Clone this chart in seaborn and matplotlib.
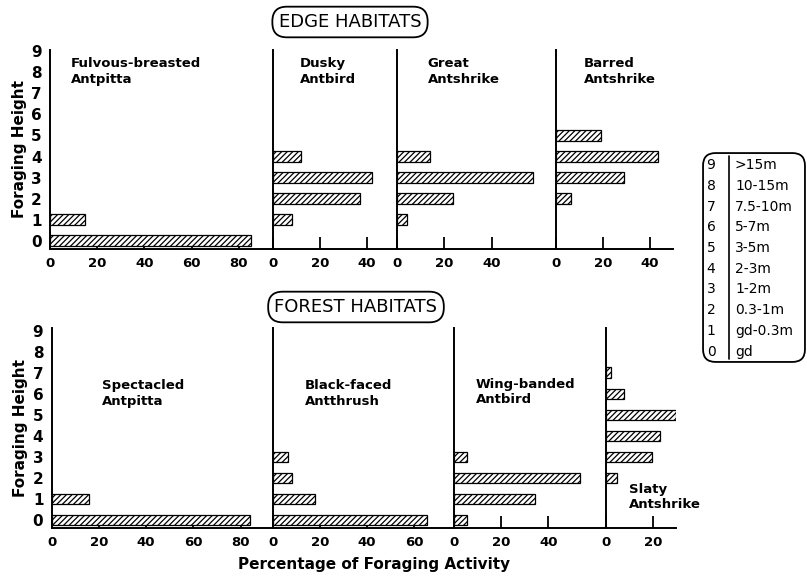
import matplotlib
matplotlib.use("Agg")
import matplotlib.pyplot as plt
from matplotlib.patches import FancyBboxPatch
import seaborn as sns
import pandas as pd

# DATA
height_codes = list(range(10))
height_ranges = ["gd", "gd-0.3m", "0.3-1m", "1-2m", "2-3m",
                 "3-5m", "5-7m", "7.5-10m", "10-15m", ">15m"]

# edge habitats
fulvous_h = [0, 1]
fulvous_pct = [85, 15]
dusky_h = [1, 2, 3, 4]
dusky_pct = [8, 37, 42, 12]
great_h = [1, 2, 3, 4]
great_pct = [4, 23.5, 57.5, 14]
barred_h = [2, 3, 4, 5]
barred_pct = [6.5, 29, 43.5, 19]

# forest habitats
spectacled_h = [0, 1]
spectacled_pct = [84, 16]
blackfaced_h = [0, 1, 2, 3]
blackfaced_pct = [65.5, 18, 8.3, 6.6]
wingbanded_h = [0, 1, 2, 3]
wingbanded_pct = [5.6, 34.5, 53.5, 5.6]
slaty_h = [2, 3, 4, 5, 6, 7]
slaty_pct = [5, 19.5, 23, 30, 8, 2.5]

# STYLE
sns.set_style("white")
plt.rcParams['font.family'] = ['DejaVu Sans']
plt.rcParams['font.weight'] = 'bold'
plt.rcParams['text.color'] = 'black'
plt.rcParams['axes.labelcolor'] = 'black'
plt.rcParams['xtick.color'] = 'black'
plt.rcParams['ytick.color'] = 'black'
plt.rcParams['hatch.linewidth'] = 0.9
plt.rcParams['hatch.color'] = 'black'

W, H = 807, 578
PX_PER_PCT = 2.36

fig = plt.figure(figsize=(W / 100, H / 100), dpi=100)
fig.patch.set_facecolor('white')

edge_panels = [
    dict(name="Fulvous-breasted\nAntpitta", h=fulvous_h, pct=fulvous_pct, xmax=94.4,
         ticks=[0, 20, 40, 60, 80], lab=(8.8, 8.02)),
    dict(name="Dusky\nAntbird", h=dusky_h, pct=dusky_pct, xmax=52.7,
         ticks=[0, 20, 40], lab=(11.6, 8.02)),
    dict(name="Great\nAntshrike", h=great_h, pct=great_pct, xmax=67.2,
         ticks=[0, 20, 40], lab=(13, 8.02)),
    dict(name="Barred\nAntshrike", h=barred_h, pct=barred_pct, xmax=49.5,
         ticks=[0, 20, 40], lab=(12, 8.02)),
]
forest_panels = [
    dict(name="Spectacled\nAntpitta", h=spectacled_h, pct=spectacled_pct, xmax=93.6,
         ticks=[0, 20, 40, 60, 80], lab=(21.2, 6.03)),
    dict(name="Black-faced\nAntthrush", h=blackfaced_h, pct=blackfaced_pct, xmax=76.8,
         ticks=[0, 20, 40, 60], lab=(13.7, 6.03)),
    dict(name="Wing-banded\nAntbird", h=wingbanded_h, pct=wingbanded_pct, xmax=64.3,
         ticks=[0, 20, 40], lab=(9.3, 6.1)),
    dict(name="Slaty\nAntshrike", h=slaty_h, pct=slaty_pct, xmax=30,
         ticks=[0, 20], lab=(9.8, 1.1)),
]


def draw_row(panels, left_px, axis_px, top_px, ylim):
    x0 = left_px
    for i, p in enumerate(panels):
        w = p["xmax"] * PX_PER_PCT
        ax = fig.add_axes([x0 / W, 1 - axis_px / H, w / W, (axis_px - top_px) / H])
        df = pd.DataFrame({"height": p["h"], "pct": p["pct"]})
        sns.barplot(data=df, x="pct", y="height", orient="y", native_scale=True,
                    color="white", edgecolor="black", linewidth=0.9, width=0.52,
                    saturation=1, errorbar=None, ax=ax)
        for bar in ax.patches:
            bar.set_hatch("//////")
            bar.set_zorder(3)
        ax.set_xlim(0, p["xmax"])
        ax.set_ylim(*ylim)
        ax.set_facecolor('none')
        sns.despine(ax=ax)
        for s in ["left", "bottom"]:
            ax.spines[s].set_linewidth(1.4)
            ax.spines[s].set_color("black")
        ax.set_xticks(p["ticks"])
        ax.tick_params(axis='x', bottom=True, direction='in', length=8.5, width=1.3,
                       labelsize=9.5, pad=6, color='black')
        ax.set_xlabel("")
        if i == 0:
            ax.set_yticks(height_codes)
            ax.tick_params(axis='y', length=0, labelsize=11, pad=6)
            ax.set_ylabel("Foraging Height", fontsize=11, fontweight='bold', labelpad=3)
        else:
            ax.set_yticks([])
            ax.set_ylabel("")
        ax.text(p["lab"][0], p["lab"][1], p["name"], ha='left', va='center',
                fontsize=9.5, fontweight='bold', linespacing=1.25)
        x0 += w


draw_row(edge_panels, 50, 249, 50, (-0.38, 9.05))
draw_row(forest_panels, 51.7, 528, 328, (-0.38, 9.14))

box_style = dict(boxstyle='round,pad=0.35,rounding_size=0.8', fc='white', ec='black', lw=1.3)
fig.text(350 / W, 1 - 22 / H, "EDGE HABITATS", ha='center', va='center',
         fontsize=13, fontweight='normal', bbox=box_style)
fig.text(356 / W, 1 - 307 / H, "FOREST HABITATS", ha='center', va='center',
         fontsize=13, fontweight='normal', bbox=box_style)

fig.text(374 / W, 1 - 565 / H, "Percentage of Foraging Activity", ha='center',
         va='center', fontsize=11, fontweight='bold')

# legend of height codes
lax = fig.add_axes([702 / W, 1 - 363 / H, 104 / W, 211 / H])
lax.set_xlim(0, 1)
lax.set_ylim(-0.55, 9.63)
lax.axis('off')
box = FancyBboxPatch((0.01, 0.005), 0.98, 0.99,
                     boxstyle="round,pad=0,rounding_size=0.12",
                     mutation_aspect=104 / 211, transform=lax.transAxes,
                     fc='none', ec='black', lw=1.3, clip_on=False)
lax.add_patch(box)
lax.axvline(0.26, 0.02, 0.98, color='black', lw=1.2)
for code, rng in zip(height_codes, height_ranges):
    lax.text(0.087, code, str(code), ha='center', va='center', fontsize=10, fontweight='normal')
    lax.text(0.317, code, rng, ha='left', va='center', fontsize=10, fontweight='normal')

fig.savefig("out.png", dpi=100)
